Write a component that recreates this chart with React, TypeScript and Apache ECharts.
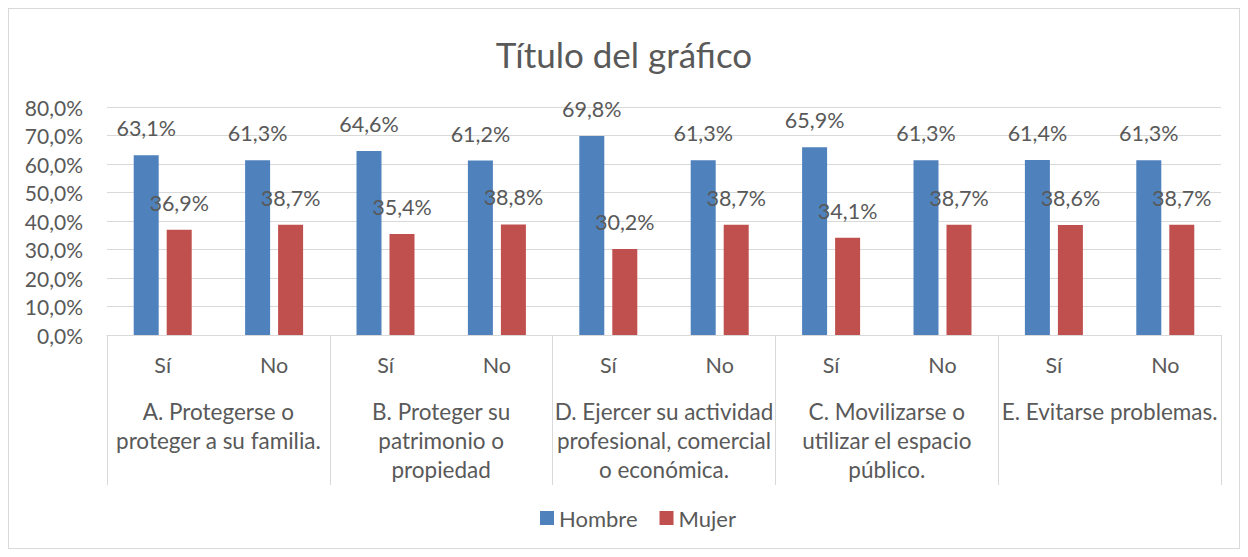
import React, { useEffect, useRef } from "react";
import * as echarts from "echarts";

const subCategories = ["Sí", "No", "Sí", "No", "Sí", "No", "Sí", "No", "Sí", "No"];
const groups = [
  "A. Protegerse o\nproteger a su familia.",
  "B. Proteger su\npatrimonio o\npropiedad",
  "D. Ejercer su actividad\nprofesional, comercial\no económica.",
  "C. Movilizarse o\nutilizar el espacio\npúblico.",
  "E. Evitarse problemas.",
];
const hombre = [63.1, 61.3, 64.6, 61.2, 69.8, 61.3, 65.9, 61.3, 61.4, 61.3];
const mujer = [36.9, 38.7, 35.4, 38.8, 30.2, 38.7, 34.1, 38.7, 38.6, 38.7];

const FONT = "Lato";
const TXT = "#595959";
const GRID = "#D9D9D9";

const fmt = (v: number) => v.toFixed(1).replace(".", ",") + "%";

export default function App() {
  const ref = useRef<HTMLDivElement>(null);
  useEffect(() => {
    if (!ref.current) return;
    const chart = echarts.init(ref.current, undefined, { renderer: "svg" });
    const labelCfg = {
      show: true,
      position: "top" as const,
      distance: 16,
      color: TXT,
      fontFamily: FONT,
      fontSize: 21.5,
      formatter: (p: any) => fmt(p.value),
    };
    chart.setOption({
      animation: false,
      textStyle: { fontFamily: FONT },
      title: {
        text: "Título del gráfico",
        left: "center",
        top: 22,
        textStyle: { color: TXT, fontFamily: FONT, fontSize: 35, fontWeight: "normal" },
      },
      legend: {
        bottom: 14,
        left: 526,
        itemWidth: 14,
        itemHeight: 14,
        itemGap: 22,
        itemTextGap: 7,
        textStyle: { color: TXT, fontFamily: FONT, fontSize: 22 },
        data: [
          { name: "Hombre", icon: "rect" },
          { name: "Mujer", icon: "rect" },
        ],
      },
      grid: { left: 98, top: 98, width: 1114, height: 228, containLabel: false },
      xAxis: [
        {
          type: "category",
          data: subCategories,
          position: "bottom",
          axisLine: { show: true, lineStyle: { color: GRID, width: 1 } },
          axisTick: { show: false },
          axisLabel: { color: TXT, fontFamily: FONT, fontSize: 21.5, margin: 15, lineHeight: 29 },
        },
        {
          type: "category",
          data: groups,
          position: "bottom",
          offset: 0,
          axisLine: { show: true, lineStyle: { color: GRID, width: 1 } },
          axisTick: { show: true, interval: 0, length: 150, lineStyle: { color: GRID, width: 1 } },
          axisLabel: {
            interval: 0,
            color: TXT,
            fontFamily: FONT,
            fontSize: 22.5,
            margin: 62,
            lineHeight: 29,
            align: "center",
          },
        },
      ],
      yAxis: {
        type: "value",
        min: 0,
        max: 80,
        interval: 10,
        axisLine: { show: false },
        axisTick: { show: false },
        splitLine: { show: true, lineStyle: { color: GRID, width: 1 } },
        axisLabel: {
          color: TXT,
          fontFamily: FONT,
          fontSize: 21,
          margin: 24,
          formatter: (v: number) => fmt(v),
        },
      },
      series: [
        {
          name: "Hombre",
          type: "bar",
          xAxisIndex: 0,
          data: hombre,
          barWidth: 25,
          barGap: "32%",
          itemStyle: { color: "#4F81BD" },
          label: labelCfg,
        },
        {
          name: "Mujer",
          type: "bar",
          xAxisIndex: 0,
          data: mujer,
          barWidth: 25,
          barGap: "32%",
          itemStyle: { color: "#C0504D" },
          label: labelCfg,
        },
      ],
    });
    return () => chart.dispose();
  }, []);
  return (
    <div
      style={{
        width: 1232,
        height: 541,
        border: "1px solid #D9D9D9",
        boxSizing: "border-box",
        background: "#fff",
      }}
    >
      <div ref={ref} style={{ width: 1230, height: 539 }} />
    </div>
  );
}
